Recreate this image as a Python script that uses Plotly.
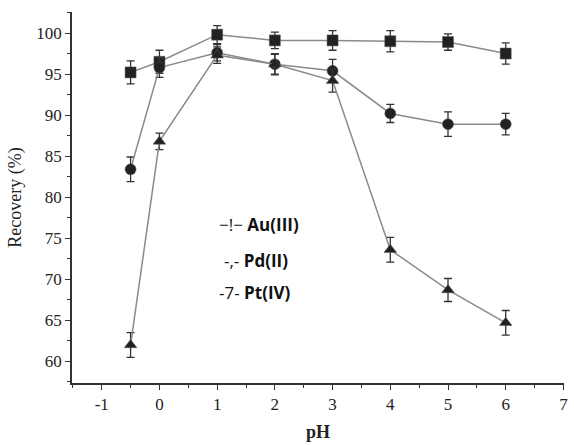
import plotly.graph_objects as go

ph = [-0.5, 0, 1, 2, 3, 4, 5, 6]
au = [95.2, 96.5, 99.8, 99.1, 99.1, 99.0, 98.9, 97.5]
au_err = [1.4, 1.4, 1.1, 1.0, 1.2, 1.3, 1.0, 1.3]
pd_ = [83.4, 95.8, 97.6, 96.2, 95.4, 90.2, 88.9, 88.9]
pd_err = [1.5, 1.2, 1.0, 1.3, 1.4, 1.1, 1.5, 1.3]
pt = [62.0, 86.8, 97.3, 96.2, 94.2, 73.6, 68.7, 64.7]
pt_err = [1.5, 1.0, 1.0, 1.2, 1.4, 1.5, 1.4, 1.5]

x_ticks = [-1, 0, 1, 2, 3, 4, 5, 6, 7]
y_ticks = [60, 65, 70, 75, 80, 85, 90, 95, 100]

line_col = "#8a8a8a"
mark_col = "#222222"
serif = "Times New Roman, Liberation Serif, Tinos, serif"
sans = "Open Sans, Noto Sans, Arial, sans-serif"

fig = go.Figure()
for y, err, sym in [(au, au_err, "square"), (pd_, pd_err, "circle"), (pt, pt_err, "triangle-up")]:
    fig.add_trace(go.Scatter(
        x=ph, y=y, mode="lines+markers",
        line=dict(color=line_col, width=1.5),
        marker=dict(symbol=sym, size=11, color=mark_col, line=dict(color="#555", width=0.5)),
        error_y=dict(type="data", array=err, visible=True, color="#333", thickness=1.3, width=4),
        showlegend=False,
    ))

legend_items = [("\u2212!\u2212 ", "Au(III)", 0.295, 0.428), ("-,- ", "Pd(II)", 0.305, 0.331), ("-7- ", "Pt(IV)", 0.295, 0.243)]
for sym, name, px, py in legend_items:
    fig.add_annotation(
        x=px, y=py, xref="paper", yref="paper", xanchor="left", yanchor="middle",
        text=f"<span style='font-weight:normal'>{sym}</span><b>{name}</b>",
        showarrow=False, font=dict(family=sans, size=17, color="#111"),
    )

axis_common = dict(
    showline=True, linecolor="#333", linewidth=1.5, mirror=False,
    ticks="outside", ticklen=5, tickwidth=1.3, tickcolor="#333",
    showgrid=False, zeroline=False,
    tickfont=dict(family=serif, size=17, color="#222"),
)

fig.update_xaxes(
    range=[-1.515, 7.01], tickvals=x_ticks, ticktext=[str(v) for v in x_ticks],
    minor=dict(dtick=0.5, tick0=0, ticks="outside", ticklen=3, tickcolor="#333", tickwidth=1.2),
    title=dict(text="<b>pH</b>", font=dict(family=serif, size=18, color="#222"), standoff=12),
    **axis_common,
)
fig.update_yaxes(
    range=[57.37, 102.56], tickvals=y_ticks, ticktext=[str(v) for v in y_ticks],
    minor=dict(dtick=2.5, tick0=60, ticks="outside", ticklen=3, tickcolor="#333", tickwidth=1.2),
    title=dict(text="Recovery (%)", font=dict(family=serif, size=18, color="#222"), standoff=10),
    **axis_common,
)

fig.update_layout(
    width=574, height=445,
    margin=dict(l=72, r=6, t=12, b=62),
    plot_bgcolor="white", paper_bgcolor="white",
)

fig.write_html("out.html")
